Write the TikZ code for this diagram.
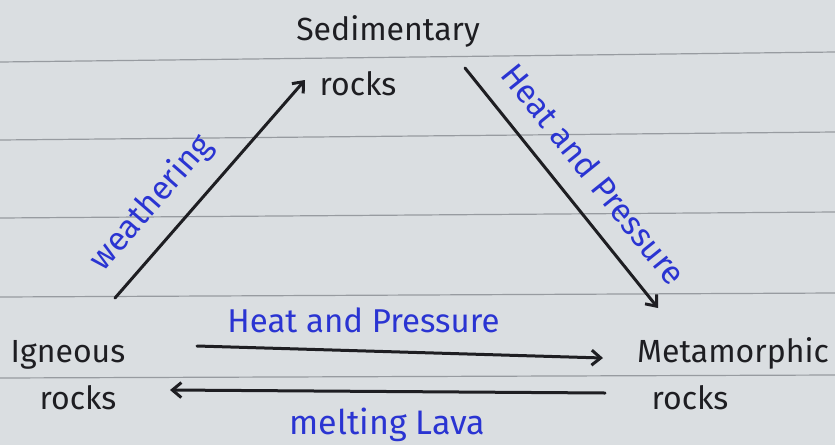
\documentclass[tikz,border=0pt]{standalone}
\usepackage{fontspec}
\setmainfont{Fira Sans}
\usepackage{tikz}
\usetikzlibrary{calc,positioning,arrows.meta}
\definecolor{paper}{HTML}{DADEE1}
\definecolor{ruling}{HTML}{979BA0}
\definecolor{inkblack}{HTML}{1E1E22}
\definecolor{inkblue}{HTML}{2A34D2}

\begin{document}
\begin{tikzpicture}[x=1pt,y=-1pt,
    rock/.style={text=inkblack, inner sep=0pt, font=\fontsize{32}{36}\selectfont},
    process/.style={text=inkblue, inner sep=0pt, font=\fontsize{33}{36}\selectfont},
    flow/.style={draw=inkblack, line width=3pt, line cap=round,
      -{Straight Barb[length=9pt,width=15pt,line width=3pt]}}]
  \fill[paper] (0,0) rectangle (835,445);
  \useasboundingbox (0,0) rectangle (835,445);
  % ruled lines of the page
  \foreach \yl/\yr in {62/52,140/132,218/212,297/293,378/375}
    \draw[ruling, line width=1.2pt] (0,\yl) -- (835,\yr);

  \node[rock] (sed) at (388,31) {Sedimentary};
  \node[rock] (sedrocks) at (358,84) {rocks};
  \node[rock] (ign) at (68,355) {Igneous};
  \node[rock] (ignrocks) at (78,398) {rocks};
  \node[rock] (meta) at (733,353) {Metamorphic};
  \node[rock] (metarocks) at (690,398) {rocks};

  \draw[flow] ($(ign)+(47,-57)$) -- ($(sedrocks)+(-53,-4)$)
    node[process, sloped, pos=0.33, above=17pt] (weather) {weathering};
  \draw[flow] ($(sed)+(77,37)$) -- ($(meta)+(-75,-45)$)
    node[process, sloped, pos=0.53, above=20pt] (heatright) {Heat and Pressure};
  \draw[flow] ($(ign)+(129,-9)$) -- ($(meta)+(-130,5)$)
    node[process, pos=0.41, above=17pt] (heatbottom) {Heat and Pressure};
  \draw[flow] ($(metarocks)+(-85,-5)$) -- ($(ignrocks)+(92,-8)$)
    node[process, pos=0.5, below=15pt, font=\fontsize{34}{36}\selectfont] (lava) {melting Lava};
\end{tikzpicture}
\end{document}
